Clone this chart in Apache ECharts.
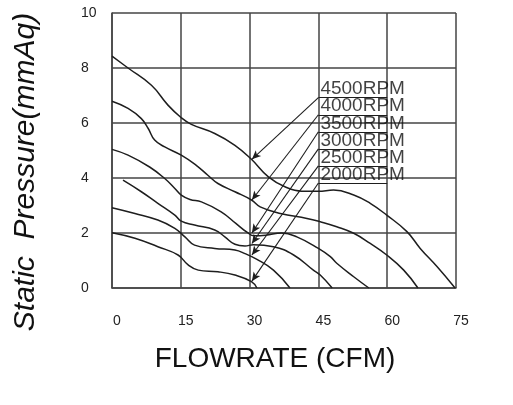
<!DOCTYPE html>
<html>
<head>
<meta charset="utf-8">
<script src="https://cdn.jsdelivr.net/npm/echarts@6/dist/echarts.min.js"></script>
<style>
html,body{margin:0;padding:0;background:#fff;}
#chart{width:513px;height:405px;}
</style>
</head>
<body>
<div id="chart"></div>
<script>
// ---- data ----
const xTicks = [0, 15, 30, 45, 60, 75];
const yTicks = [0, 2, 4, 6, 8, 10];
const rpmLabels = ['4500RPM', '4000RPM', '3500RPM', '3000RPM', '2500RPM', '2000RPM'];

const curve4500 = [[0,8.43],[3.5,8.0],[8.6,7.37],[12.2,6.65],[15.1,6.19],[17.3,5.95],[22.4,5.62],[26.8,5.19],[30.4,4.68],[34.1,4.04],[37.7,3.68],[41.4,3.52],[45,3.52],[48.3,3.56],[52.7,3.38],[56.3,3.08],[59.9,2.65],[64.3,2.05],[67.2,1.44],[70.9,0.77],[74.8,0]];
const curve4000 = [[0,6.79],[3.5,6.53],[6.4,6.16],[7.9,5.8],[9.3,5.38],[11.5,5.13],[15.1,4.83],[18.3,4.47],[20.9,4.1],[23.1,3.8],[26.8,3.5],[30.4,3.2],[32.3,2.95],[36.7,2.71],[42.5,2.53],[45.4,2.41],[49,2.23],[52.7,1.99],[56.3,1.62],[59.9,1.2],[63.6,0.65],[66.7,0]];
const curve3500 = [[0,5.04],[3.5,4.83],[8.2,4.4],[11.5,3.98],[13.7,3.62],[15.1,3.38],[17,3.22],[19.5,3.13],[23.8,2.77],[27,2.35],[29.5,2.02],[31,1.9],[33.5,1.92],[37,2.0],[40.3,1.86],[45,1.44],[47.6,1.14],[49,0.9],[52.7,0.41],[56,0]];
const curve3000 = [[2.4,3.92],[6.4,3.5],[10,3.08],[13.7,2.65],[15.1,2.43],[18,2.29],[22.4,2.11],[24.6,1.86],[26.8,1.59],[29,1.53],[30.8,1.57],[35.2,1.5],[39.6,1.2],[43.9,0.65],[45.4,0.47],[48,0]];
const curve2500 = [[0,2.92],[5,2.71],[10,2.47],[13.7,2.17],[15.9,1.86],[18,1.56],[22.4,1.44],[26.8,1.38],[29,1.25],[31.5,1.05],[35.2,0.65],[38.8,0]];
const curve2000 = [[0,2.01],[5,1.81],[10,1.5],[14.4,1.2],[16.6,0.84],[18.8,0.65],[23.1,0.59],[26.8,0.47],[30.4,0.23],[31.6,0]];

// annotation anchors (data units)
const labelAnchorX = 45;
const underlineEndX = 60;
const labelAnchorY = [6.92, 6.3, 5.68, 5.06, 4.44, 3.82];
const arrowTipX = 30.5;
const arrowTipY = [4.68, 3.2, 2.0, 1.62, 1.2, 0.25];

// ---- chart ----
const curves = [curve4500, curve4000, curve3500, curve3000, curve2500, curve2000];
const FONT = 'Liberation Sans, Arial, sans-serif';
const INK = '#1e1e1e';
const GRID = '#454545';

const chart = echarts.init(document.getElementById('chart'), null, {renderer: 'canvas'});

const curveSeries = curves.map((c, i) => ({
  name: rpmLabels[i],
  type: 'line',
  data: c,
  smooth: 0.45,
  showSymbol: false,
  symbol: 'none',
  silent: true,
  lineStyle: {color: INK, width: 1.5},
  z: 3
}));

const markData = [];
rpmLabels.forEach((t, i) => {
  markData.push([
    {coord: [labelAnchorX, labelAnchorY[i]], symbol: 'none'},
    {coord: [arrowTipX, arrowTipY[i]], symbol: 'arrow'}
  ]);
  markData.push([
    {coord: [labelAnchorX, labelAnchorY[i]], symbol: 'none'},
    {coord: [underlineEndX, labelAnchorY[i]], symbol: 'none'}
  ]);
});

const labelSeries = {
  type: 'scatter',
  data: rpmLabels.map((t, i) => ({name: t, value: [labelAnchorX, labelAnchorY[i]]})),
  symbolSize: 0,
  silent: true,
  z: 5,
  label: {
    show: true,
    formatter: '{b}',
    position: 'right',
    distance: 2,
    offset: [0, -8.5],
    fontFamily: FONT,
    fontSize: 19,
    color: '#111'
  },
  markLine: {
    silent: true,
    animation: false,
    symbol: ['none', 'arrow'],
    symbolSize: [6, 9],
    label: {show: false},
    lineStyle: {color: INK, width: 1.1, type: 'solid'},
    emphasis: {disabled: true},
    data: markData
  }
};

chart.setOption({
  animation: false,
  backgroundColor: '#fff',
  grid: {left: 112, right: 57, top: 13, bottom: 117},
  xAxis: {
    type: 'value',
    min: xTicks[0],
    max: xTicks[xTicks.length - 1],
    interval: xTicks[1] - xTicks[0],
    name: 'FLOWRATE (CFM)',
    nameLocation: 'middle',
    nameGap: 57,
    nameTextStyle: {fontFamily: FONT, fontSize: 28, color: '#111', padding: [0, 18, 0, 0]},
    axisLine: {lineStyle: {color: GRID, width: 1.5}},
    axisTick: {show: false},
    splitLine: {show: true, lineStyle: {color: GRID, width: 1.5}},
    axisLabel: {fontFamily: FONT, fontSize: 14, color: '#222', margin: 26, padding: [0, 0, 0, 10]}
  },
  yAxis: {
    type: 'value',
    min: yTicks[0],
    max: yTicks[yTicks.length - 1],
    interval: yTicks[1] - yTicks[0],
    name: 'Static  Pressure(mmAq)',
    nameLocation: 'middle',
    nameRotate: 90,
    nameGap: 71,
    nameTextStyle: {fontFamily: FONT, fontSize: 30, fontStyle: 'italic', color: '#111', padding: [0, 43, 0, 0]},
    axisLine: {lineStyle: {color: GRID, width: 1.5}},
    axisTick: {show: false},
    splitLine: {show: true, lineStyle: {color: GRID, width: 1.5}},
    axisLabel: {fontFamily: FONT, fontSize: 14, color: '#222', margin: 31, align: 'left'}
  },
  series: curveSeries.concat([labelSeries])
});
</script>
</body>
</html>
